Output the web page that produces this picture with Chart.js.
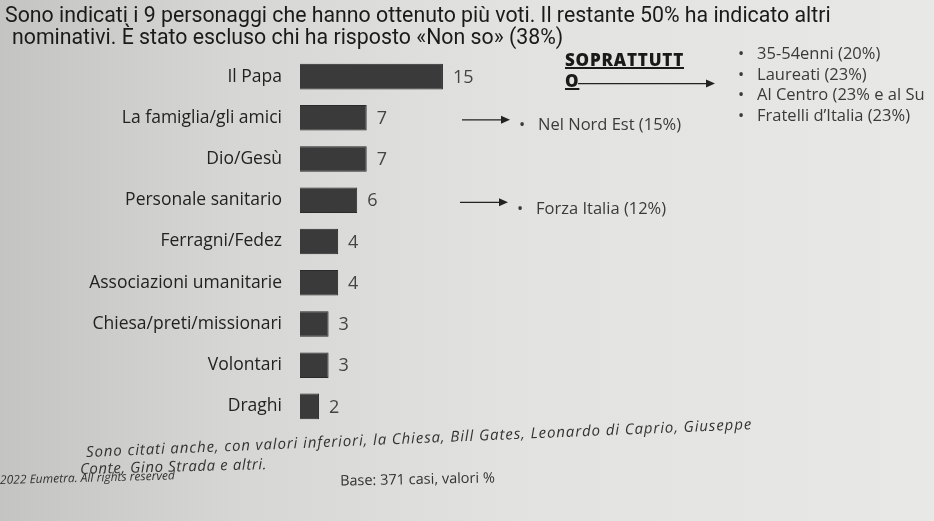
<!DOCTYPE html>
<html>
<head>
<meta charset="utf-8">
<script src="https://cdn.jsdelivr.net/npm/chart.js@4/dist/chart.umd.min.js"></script>
<style>
  html, body { margin: 0; padding: 0; }
  body {
    width: 934px; height: 521px; position: relative; overflow: hidden;
    background: linear-gradient(90deg, #c4c4c2 0%, #d6d6d4 25%, #e2e2e0 55%, #e8e8e6 100%);
    font-family: "Open Sans", sans-serif; color: #222;
  }
  #wrap { position: absolute; left: 0; top: 0; width: 934px; height: 521px; }
  .t { position: absolute; white-space: nowrap; }
  .title { font-family: "Liberation Sans Narrow", "Roboto", sans-serif; font-size: 21.3px; color: #1a1a1a; }
  .note { font-size: 16.5px; color: #3a3a3a; }
  .foot { font-style: italic; font-size: 15px; letter-spacing: 0.9px; color: #333; transform-origin: 0 50%; }
</style>
</head>
<body>
<div id="wrap"><canvas id="chart" width="934" height="521"></canvas></div>

<div class="t title" style="left:5px; top:2px;">Sono indicati i 9 personaggi che hanno ottenuto più voti. Il restante 50% ha indicato altri</div>
<div class="t title" style="left:12px; top:24px;">nominativi. È stato escluso chi ha risposto «Non so» (38%)</div>

<div class="t" style="left:565px; top:49px; font-family:'Open Sans',sans-serif; font-weight:800; font-size:17px; letter-spacing:0.8px; color:#1a1a1a; text-decoration:underline; text-decoration-thickness:2px; line-height:21px;">SOPRATTUTT<br>O</div>
<div class="t note" style="left:738px; top:43px; line-height:20.7px;">
  •&nbsp;&nbsp;&nbsp;35-54enni (20%)<br>•&nbsp;&nbsp;&nbsp;Laureati (23%)<br>•&nbsp;&nbsp;&nbsp;Al Centro (23% e al Su<br>•&nbsp;&nbsp;&nbsp;Fratelli d’Italia (23%)
</div>
<div class="t note" style="left:519px; top:112px;">•&nbsp;&nbsp;&nbsp;Nel Nord Est (15%)</div>
<div class="t note" style="left:517px; top:196px;">•&nbsp;&nbsp;&nbsp;Forza Italia (12%)</div>

<div class="t foot" style="left:86px; top:441px; transform:rotate(-2.4deg);">Sono citati anche, con valori inferiori, la Chiesa, Bill Gates, Leonardo di Caprio, Giuseppe</div>
<div class="t foot" style="left:80px; top:458px; letter-spacing:0.6px; transform:rotate(-1.5deg);">Conte, Gino Strada e altri.</div>
<div class="t foot" style="left:0px; top:471px; font-size:12px; letter-spacing:0; transform:rotate(-1.5deg);">2022 Eumetra. All rights reserved</div>
<div class="t" style="left:340px; top:469px; font-size:14.5px; color:#333; transform:rotate(-1.2deg);">Base: 371 casi, valori %</div>

<script>
const categories = [
  "Il Papa", "La famiglia/gli amici", "Dio/Gesù", "Personale sanitario",
  "Ferragni/Fedez", "Associazioni umanitarie", "Chiesa/preti/missionari",
  "Volontari", "Draghi"
];
const values = [15, 7, 7, 6, 4, 4, 3, 3, 2];

// arrows: [row index, x start, x end]
const arrows = [[0, 578, 715], [1, 462, 510], [3, 460, 508]];

const valueLabels = {
  id: "valueLabels",
  afterDatasetsDraw(chart) {
    const ctx = chart.ctx;
    const meta = chart.getDatasetMeta(0);
    ctx.save();
    ctx.font = "18px 'Open Sans', sans-serif";
    ctx.fillStyle = "#444";
    ctx.textBaseline = "middle";
    meta.data.forEach((bar, i) => {
      ctx.fillText(String(values[i]), bar.x + 10, bar.y + 1);
    });
    // arrows
    const y = chart.scales.y;
    ctx.strokeStyle = "#222";
    ctx.fillStyle = "#222";
    ctx.lineWidth = 1.2;
    arrows.forEach(([row, x0, x1]) => {
      const py = y.getPixelForValue(row) + (row === 0 ? 7 : 2);
      ctx.beginPath();
      ctx.moveTo(x0, py);
      ctx.lineTo(x1 - 8, py);
      ctx.stroke();
      ctx.beginPath();
      ctx.moveTo(x1, py);
      ctx.lineTo(x1 - 9, py - 4);
      ctx.lineTo(x1 - 9, py + 4);
      ctx.closePath();
      ctx.fill();
    });
    ctx.restore();
  }
};

new Chart(document.getElementById("chart"), {
  type: "bar",
  data: {
    labels: categories,
    datasets: [{
      data: values,
      backgroundColor: "#3a3a3a",
      borderColor: "#2a2a2a",
      borderWidth: 1,
      categoryPercentage: 1,
      barPercentage: 0.62
    }]
  },
  options: {
    indexAxis: "y",
    responsive: false,
    animation: false,
    layout: { padding: { top: 56, bottom: 94, right: 5, left: 0 } },
    plugins: { legend: { display: false }, tooltip: { enabled: false } },
    scales: {
      x: { display: false, min: 0, max: 66 },
      y: {
        grid: { display: false },
        border: { display: false },
        afterFit: s => { s.width = 300; },
        ticks: {
          padding: 10,
          color: "#222",
          font: { family: "'Open Sans', sans-serif", size: 17.5 }
        }
      }
    }
  },
  plugins: [valueLabels]
});
</script>
</body>
</html>
